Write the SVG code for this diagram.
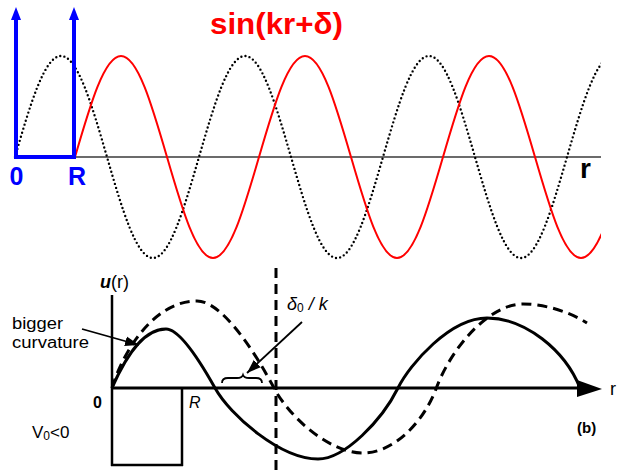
<svg xmlns="http://www.w3.org/2000/svg" width="618" height="472" viewBox="0 0 618 472">
<style>
.red{fill:none;stroke:#ff0000;stroke-width:2}
.dot{fill:none;stroke:#000;stroke-width:2.4;stroke-dasharray:0 4.2;stroke-linecap:round}
.blue{fill:none;stroke:#0000ff;stroke-width:4}
.bl{fill:#0000ff;font-family:"Liberation Sans",Arial,sans-serif;font-weight:bold;font-size:25px}
.ink{fill:none;stroke:#000;stroke-width:3}
.dash{fill:none;stroke:#000;stroke-width:3;stroke-dasharray:10 6}
.thin{fill:none;stroke:#000;stroke-width:1.8}
.t{font-family:"Liberation Sans",Arial,sans-serif;fill:#000}
</style>
<defs>
<clipPath id="clipTop"><rect x="0" y="0" width="601" height="270"/></clipPath>
<marker id="ah" markerUnits="userSpaceOnUse" markerWidth="16" markerHeight="12" refX="14" refY="6" orient="auto"><path d="M0,1 L14,6 L0,11 z" fill="#000"/></marker>
</defs>

<g id="top-panel">
  <line x1="75" y1="157" x2="601" y2="157" stroke="#6b6b6b" stroke-width="2"/>
  <g clip-path="url(#clipTop)">
    <path id="dotted-wave" class="dot" d="M15,157 c 15,-51.7 29.3,-101 46,-101 c 16.7,0 31,49.3 46,101 c 15,51.7 29.3,101 46,101 c 16.7,0 31,-49.3 46,-101 c 15,-51.7 29.3,-101 46,-101 c 16.7,0 31,49.3 46,101 c 15,51.7 29.3,101 46,101 c 16.7,0 31,-49.3 46,-101 c 15,-51.7 29.3,-101 46,-101 c 16.7,0 31,49.3 46,101 c 15,51.7 29.3,101 46,101 c 16.7,0 31,-49.3 46,-101 c 15,-51.7 29.3,-101 46,-101"/>
    <path id="red-wave" class="red" d="M75,157 c 15,-51.7 29.3,-101 46,-101 c 16.7,0 31,49.3 46,101 c 15,51.7 29.3,101 46,101 c 16.7,0 31,-49.3 46,-101 c 15,-51.7 29.3,-101 46,-101 c 16.7,0 31,49.3 46,101 c 15,51.7 29.3,101 46,101 c 16.7,0 31,-49.3 46,-101 c 15,-51.7 29.3,-101 46,-101 c 16.7,0 31,49.3 46,101 c 15,51.7 29.3,101 46,101 c 16.7,0 31,-49.3 46,-101"/>
  </g>
  <g id="well-top">
    <path class="blue" d="M16,19 V157 H74 V19"/>
    <polygon points="16,7 11,20 21,20" fill="#0000ff"/>
    <polygon points="74,7 69,20 79,20" fill="#0000ff"/>
    <text class="bl" x="16.5" y="185" text-anchor="middle">0</text>
    <text class="bl" x="77" y="185" text-anchor="middle">R</text>
  </g>
  <text x="210" y="34" fill="#ff0000" font-family="'Liberation Sans',Arial,sans-serif" font-weight="bold" font-size="30" textLength="133" lengthAdjust="spacingAndGlyphs">sin(kr+δ)</text>
  <text x="580" y="178" class="t" font-weight="bold" font-size="28">r</text>
</g>

<g id="bottom-panel">
  <g id="axes">
    <line x1="112" y1="295" x2="112" y2="466" stroke="#000" stroke-width="2.5"/>
    <line x1="111" y1="465" x2="183" y2="465" stroke="#000" stroke-width="2.5"/>
    <line x1="182" y1="388" x2="182" y2="466" stroke="#000" stroke-width="2.5"/>
    <line x1="112" y1="388" x2="580" y2="388" stroke="#000" stroke-width="3"/>
    <polygon points="577,380 602,389 577,397" fill="#000"/>
    <line x1="276" y1="268" x2="276" y2="472" class="dash" stroke-dasharray="10 5"/>
  </g>
  <g id="curves">
    <path id="solid-u" class="ink" d="M112,388 C122,365 140,329 166,329 C180,329 201,363 215,388 C230,415 280,459 318,459 C345,459 382,420 398,388 C410,364 450,318 487,318 C525,318 565,350 580,388"/>
    <path id="dashed-u" class="dash" d="M112,388 C120,360 150,301 197,301 C222,301 255,352 274,388 C290,418 330,453 363,453 C392,453 422,425 436,389 C450,350 488,304 523,304 C545,304 570,312 587,323"/>
  </g>
  <g id="connectors">
    <line x1="82" y1="329" x2="139" y2="345" class="thin" marker-end="url(#ah)"/>
    <line x1="302" y1="322" x2="247" y2="373" class="thin" marker-end="url(#ah)"/>
    <path class="thin" stroke-width="1.4" d="M222,383 Q222,378 228,378 L237,378 Q242,378 243,375 Q244,378 249,378 L256,378 Q262,378 262,383"/>
  </g>
  <g id="labels">
    <text class="t" x="100" y="288" font-size="18"><tspan font-style="italic" font-weight="bold">u</tspan>(r)</text>
    <text class="t" x="12" y="329" font-size="16" textLength="51" lengthAdjust="spacingAndGlyphs">bigger</text>
    <text class="t" x="12" y="348" font-size="16" textLength="77" lengthAdjust="spacingAndGlyphs">curvature</text>
    <text class="t" x="93" y="408" font-size="16" font-weight="bold">0</text>
    <text class="t" x="189" y="408" font-size="16" font-style="italic">R</text>
    <text class="t" x="32" y="438" font-size="17">V<tspan font-size="12" dy="2">0</tspan><tspan dy="-2">&lt;0</tspan></text>
    <text class="t" x="287" y="310" font-size="18" font-style="italic">δ<tspan font-size="12" dy="2" font-style="normal">0</tspan><tspan dy="-2"> / k</tspan></text>
    <text class="t" x="577" y="433" font-size="15" font-weight="bold">(b)</text>
    <text class="t" x="610" y="395" font-size="18">r</text>
  </g>
</g>
</svg>
